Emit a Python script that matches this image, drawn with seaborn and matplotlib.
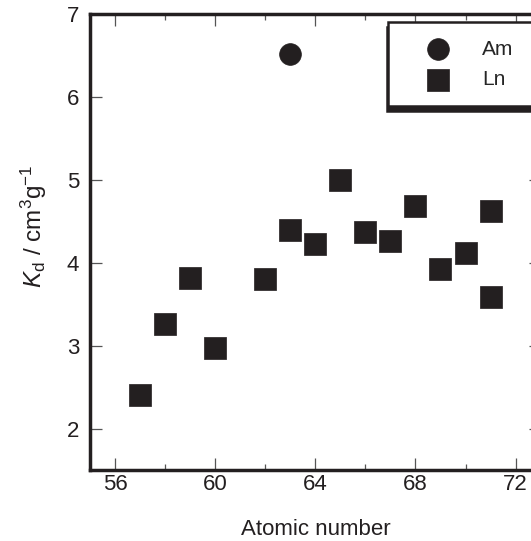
import numpy as np
import seaborn as sns
import matplotlib.pyplot as plt
from matplotlib.ticker import MultipleLocator

# Plain style, fonts set after seaborn so they stick
sns.set_style("ticks")
plt.rcParams['font.family'] = ['Liberation Sans', 'DejaVu Sans']
plt.rcParams['mathtext.fontset'] = 'custom'
plt.rcParams['mathtext.rm'] = 'Liberation Sans'
plt.rcParams['mathtext.it'] = 'Liberation Sans:italic'

ink = '#231f20'

# Kd values
am_z = [63]
am_kd = [6.52]
ln_z = [57, 58, 59, 60, 62, 63, 64, 65, 66, 67, 68, 69, 70, 71, 71]
ln_kd = [2.40, 3.26, 3.82, 2.97, 3.80, 4.39, 4.23, 5.00, 4.37, 4.26,
         4.69, 3.93, 4.12, 4.63, 3.59]

fig = plt.figure(figsize=(5.31, 5.41), dpi=100)
ax = fig.add_axes([0.1704, 0.1312, 0.8475, 0.8429])

sns.scatterplot(x=am_z, y=am_kd, marker='o', s=245, color=ink,
                edgecolor=ink, linewidth=0.5, label='Am', ax=ax, zorder=3)
sns.scatterplot(x=ln_z, y=ln_kd, marker='s', s=245, color=ink,
                edgecolor=ink, linewidth=0.5, label='Ln', ax=ax, zorder=3)

ax.set_xlim(55, 73)
ax.set_ylim(1.5, 7.0)
ax.xaxis.set_major_locator(MultipleLocator(4))
ax.xaxis.set_minor_locator(MultipleLocator(2))
ax.yaxis.set_major_locator(MultipleLocator(1))

ax.tick_params(which='both', direction='in', top=True, right=True,
               color='#555555', width=0.9, labelsize=16, labelcolor=ink)
ax.tick_params(which='major', length=8.5)
ax.tick_params(which='minor', length=4)
ax.tick_params(axis='x', pad=3)
ax.tick_params(axis='y', pad=8)

for side in ax.spines.values():
    side.set_linewidth(2.5)
    side.set_color(ink)

ax.set_xlabel('Atomic number', fontsize=16, color=ink, labelpad=17)
ax.set_ylabel(r'$K_\mathrm{d}$ / cm$^{3}$g$^{-1}$', fontsize=17.5, color=ink)
ax.yaxis.set_label_coords(-0.093, 0.535)

leg = ax.legend(loc='upper left', bbox_to_anchor=(0.661, 0.5, 0.45, 0.482),
                mode='expand', fontsize=15, frameon=True, fancybox=False,
                borderpad=0.83, handlelength=3.14, handletextpad=0.54,
                labelspacing=0.55, borderaxespad=0,
                shadow={'ox': -0.7, 'oy': -3.3, 'facecolor': ink,
                        'edgecolor': ink, 'alpha': 1})
leg.get_frame().set_edgecolor(ink)
leg.get_frame().set_linewidth(1.8)
leg.get_frame().set_alpha(1)

fig.savefig('out.png', dpi=100)
